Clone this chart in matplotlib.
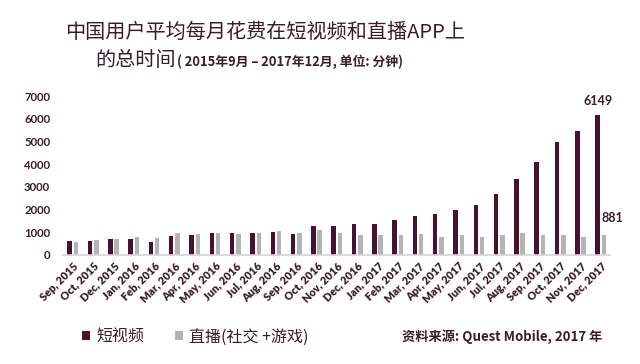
import matplotlib
matplotlib.use("Agg")
import matplotlib.pyplot as plt
import numpy as np

plt.rcParams['font.family'] = ['Noto Sans CJK SC', 'DejaVu Sans']

# 月份
months = ["Sep, 2015", "Oct, 2015", "Dec, 2015", "Jan, 2016", "Feb, 2016", "Mar, 2016",
          "Apr, 2016", "May, 2016", "Jun, 2016", "Jul, 2016", "Aug, 2016", "Sep, 2016",
          "Oct, 2016", "Nov, 2016", "Dec, 2016", "Jan, 2017", "Feb, 2017", "Mar, 2017",
          "Apr, 2017", "May, 2017", "Jun, 2017", "Jul, 2017", "Aug, 2017", "Sep, 2017",
          "Oct, 2017", "Nov, 2017", "Dec, 2017"]

# 短视频 (分钟)
short_video = [630, 630, 705, 705, 545, 840, 855, 955, 970, 940, 985, 925,
               1250, 1250, 1380, 1380, 1530, 1690, 1780, 1985, 2175, 2675,
               3340, 4075, 4985, 5470, 6149]

# 直播(社交+游戏)
live = [575, 645, 675, 780, 720, 955, 925, 955, 910, 940, 1030, 940,
        1090, 940, 870, 870, 855, 910, 795, 855, 795, 895, 940, 855,
        895, 795, 881]

DARK = '#4a1030'
GRAY = '#b4b4b4'
TXT = '#3b1c2c'

fig = plt.figure(figsize=(6.4, 3.64), dpi=100)
ax = fig.add_axes([0.098, 0.3, 0.855, 0.436])

x = np.arange(len(months))
w = 0.22
b1 = ax.bar(x - 0.155, short_video, w, color=DARK, label='短视频')
b2 = ax.bar(x + 0.155, live, w, color=GRAY, label='直播(社交 +游戏)')

ax.set_xlim(-0.5, len(months) - 0.55)
ax.set_ylim(0, 7000)
ax.set_yticks(range(0, 7001, 1000))
ax.set_yticklabels([str(v) for v in range(0, 7001, 1000)],
                   fontsize=8.2, fontweight='bold', color=TXT, family='Lato')
ax.set_xticks(x)
ax.set_xticklabels(months, rotation=45, ha='right', rotation_mode='anchor',
                   fontsize=7.8, fontweight='heavy', color=TXT, family='Lato')
ax.tick_params(length=0, pad=4)
ax.tick_params(axis='y', pad=9)
for s in ['top', 'right', 'left']:
    ax.spines[s].set_visible(False)
ax.spines['bottom'].set_color('#d4d4d4')
ax.spines['bottom'].set_linewidth(1.2)

# 数值标签
ax.annotate(str(short_video[-1]), (x[-1] - 0.155, short_video[-1]),
            xytext=(0, 6), textcoords='offset points', ha='center', va='bottom',
            fontsize=9, fontweight='bold', color=TXT, family='Lato')
ax.annotate(str(live[-1]), (x[-1] + 0.155 - w / 2, live[-1]),
            xytext=(0, 8), textcoords='offset points', ha='left', va='bottom',
            fontsize=9, fontweight='bold', color=TXT, family='Lato')

# 标题
fig.text(65 / 640, 1 - 32 / 364, '中国用户平均每月花费在短视频和直播APP上',
         fontsize=14.5, color=TXT, ha='left', va='center', fontweight='medium')
fig.text(95 / 640, 1 - 61 / 364, '的总时间',
         fontsize=14.5, color=TXT, ha='left', va='center', fontweight='medium')
fig.text(177 / 640, 1 - 62 / 364, '( 2015年9月 – 2017年12月, 单位: 分钟)',
         fontsize=9.3, fontweight='bold', color=TXT, ha='left', va='center')

# 图例
fig.legend([b1, b2], ['短视频', '直播(社交 +游戏)'], loc='center left',
           bbox_to_anchor=(82 / 640, 1 - 337 / 364), ncol=2, frameon=False,
           borderpad=0, borderaxespad=0,
           handlelength=0.5, handleheight=0.5, handletextpad=0.4,
           columnspacing=1.9, prop={'size': 11.5, 'weight': 'medium'}, labelcolor=TXT)

# 来源
fig.text(602 / 640, 1 - 337 / 364, '资料来源: Quest Mobile, 2017 年',
         fontsize=9.5, fontweight='bold', color=TXT, ha='right', va='center')

fig.savefig('out.png', dpi=100, facecolor='white')
